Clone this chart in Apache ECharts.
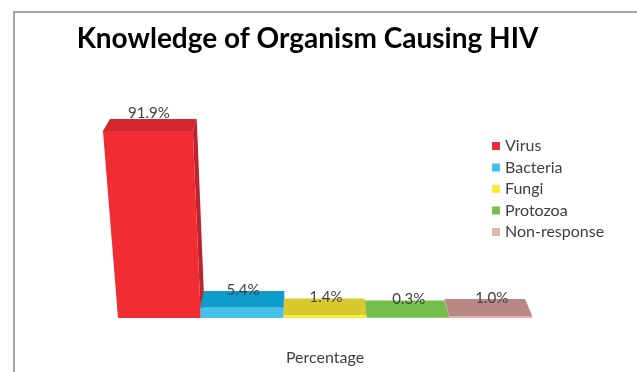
<!DOCTYPE html>
<html>
<head>
<meta charset="utf-8">
<script src="https://cdn.jsdelivr.net/npm/echarts@6/dist/echarts.min.js"></script>
<style>
html,body{margin:0;padding:0;background:#fff;}
#chart{width:637px;height:372px;}
</style>
</head>
<body>
<div id="chart"></div>
<script>
// ---- data ----
const categories = ['Virus', 'Bacteria', 'Fungi', 'Protozoa', 'Non-response'];
const values = [91.9, 5.4, 1.4, 0.3, 1.0];
const valueLabels = ['91.9%', '5.4%', '1.4%', '0.3%', '1.0%'];
const titleText = 'Knowledge of Organism Causing HIV';
const axisTitle = 'Percentage';

// ---- styles ----
const legendColors = ['#EE2E33', '#45C0EA', '#F6EC3C', '#76BF48', '#E3B2B1'];
const frontColors  = ['#EF2D33', '#46C1EA', '#F7EE3C', '#7AC24E', '#E6B4B2'];
const topColors    = ['#D6272E', '#0E9CCB', '#D8CA2E', '#77BF4D', '#B98884'];
const sideColors   = ['#BE2330', '#0B86B0', '#C2B528', '#64A63E', '#C99A96'];
const drawOrder    = [2, 3, 6, 5, 4];
const FONT = 'Lato, "Open Sans", sans-serif';

function renderBar(params, api) {
  const cs = params.coordSys;
  const ox = cs.x, oy = cs.y + cs.height;
  const i = api.value(0), v = api.value(1);
  const top = api.coord([i, v]);
  const bw = api.size([1, 0])[0];
  const xl = top[0] - bw / 2 - ox, xr = top[0] + bw / 2 - ox;
  const Y = oy - top[1];
  // perspective camera (vanishing points relative to grid origin)
  const KY = -0.000428 * (200 / cs.height);
  const KZ = 0.0328;
  const VX = ox + 176, VY = oy + 2189;   // vertical vanishing point
  const DX = ox + 189, DY = oy - 537;    // depth vanishing point
  function P(X, Yw, Z) {
    const w = 1 + KY * Yw + KZ * Z;
    return [(X + ox + KY * VX * Yw + KZ * DX * Z) / w, (oy + KY * VY * Yw + KZ * DY * Z) / w];
  }
  const camX = 186;
  const children = [];
  if (xr < camX) {
    children.push({type: 'polygon', shape: {points: [P(xr,0,0), P(xr,Y,0), P(xr,Y,1), P(xr,0,1)]},
      style: {fill: sideColors[i]}});
  }
  if (xl > camX) {
    children.push({type: 'polygon', shape: {points: [P(xl,0,0), P(xl,Y,0), P(xl,Y,1), P(xl,0,1)]},
      style: {fill: sideColors[i]}});
  }
  children.push({type: 'polygon', shape: {points: [P(xl,Y,0), P(xr,Y,0), P(xr,Y,1), P(xl,Y,1)]},
    style: {fill: topColors[i]}});
  children.push({type: 'polygon', shape: {points: [P(xl,0,0), P(xr,0,0), P(xr,Y,0), P(xl,Y,0)]},
    style: {fill: frontColors[i]}});
  const ftl = P(xl, Y, 0), ftr = P(xr, Y, 0);
  children.push({type: 'text', z2: 10, style: {
    text: valueLabels[i], x: (ftl[0] + ftr[0]) / 2 + 1, y: ftl[1] - 18,
    align: 'center', verticalAlign: 'middle',
    fill: '#404040', font: '15px ' + FONT}});
  return {type: 'group', children: children};
}

const series = categories.map((name, i) => ({
  name: name,
  type: 'custom',
  z: drawOrder[i],
  renderItem: renderBar,
  itemStyle: {color: legendColors[i]},
  encode: {x: 0, y: 1},
  data: [[i, values[i]]]
}));

const chart = echarts.init(document.getElementById('chart'), null, {renderer: 'canvas'});
chart.setOption({
  animation: false,
  backgroundColor: '#fff',
  grid: {left: 118, width: 414, bottom: 54, height: 200},
  xAxis: {
    type: 'category', data: categories,
    axisLine: {show: false}, axisTick: {show: false}, axisLabel: {show: false}, splitLine: {show: false},
    name: axisTitle, nameLocation: 'middle', nameGap: 32,
    nameTextStyle: {fontFamily: FONT, fontSize: 16, color: '#404040'}
  },
  yAxis: {
    type: 'value', min: 0, max: 100,
    axisLine: {show: false}, axisTick: {show: false}, axisLabel: {show: false}, splitLine: {show: false}
  },
  legend: {
    orient: 'vertical', left: 492, top: 138, padding: 0,
    data: categories, icon: 'rect', itemWidth: 8, itemHeight: 8, itemGap: 5.5,
    textStyle: {fontFamily: FONT, fontSize: 16, color: '#404040', lineHeight: 16}
  },
  graphic: [
    {type: 'rect', silent: true, z: -1, shape: {x: 14, y: 12, width: 700, height: 500},
      style: {fill: 'none', stroke: '#A6A6A6', lineWidth: 2}},
    {type: 'text', silent: true, style: {text: titleText, x: 307.5, y: 39,
      align: 'center', verticalAlign: 'middle', fill: '#000', font: 'bold 28px ' + FONT}}
  ],
  series: series
});
</script>
</body>
</html>
